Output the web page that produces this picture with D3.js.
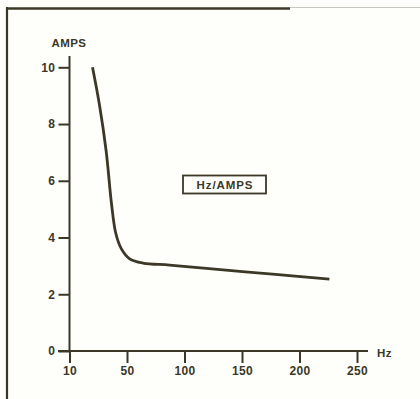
<!DOCTYPE html>
<html>
<head>
<meta charset="utf-8">
<script src="https://cdn.jsdelivr.net/npm/d3@7"></script>
<style>
  html, body { margin: 0; padding: 0; background: #fefefb; }
  svg { display: block; }
  text { font-family: "Liberation Sans", Arial, Helvetica, sans-serif; font-weight: bold; fill: #3b3828; }
</style>
</head>
<body>
<svg id="chart" width="420" height="399"></svg>
<script>
// Frequency (Hz) vs current (AMPS)
const hz   = [26, 31, 35.5, 39.2, 42.2, 46.1, 52.3, 63.9, 87, 119, 176.5, 226];
const amps = [10, 8.63, 7.05, 5.2, 4.15, 3.6, 3.25, 3.1, 3.03, 2.91, 2.71, 2.53];

const xTicks = [10, 50, 100, 150, 200, 250];
const yTicks = [0, 2, 4, 6, 8, 10];
const seriesLabel = "Hz/AMPS";

const ink = "#3b3828";
const svg = d3.select("#chart");

// The frequency axis places its labelled values at equal steps
const x0 = 69.5, step = 57.5;
const x = d3.scaleLinear()
  .domain(xTicks)
  .range(xTicks.map((d, i) => x0 + i * step));
const xEnd = x0 + (xTicks.length - 1) * step + 11;

const y = d3.scaleLinear().domain([0, 10]).range([351, 67.3]);

// frame: left and top rules
svg.append("line").attr("x1", 7).attr("x2", 7).attr("y1", 7).attr("y2", 399)
  .attr("stroke", ink).attr("stroke-width", 2.2);
svg.append("line").attr("x1", 6).attr("x2", 290).attr("y1", 8.5).attr("y2", 8.5)
  .attr("stroke", ink).attr("stroke-width", 2.4);
svg.append("line").attr("x1", 290).attr("x2", 420).attr("y1", 7.5).attr("y2", 7.5)
  .attr("stroke", "#c9c8be").attr("stroke-width", 1);

// y axis
const yAxis = d3.axisLeft(y).tickValues(yTicks).tickSize(11).tickSizeOuter(0).tickPadding(3);
const gy = svg.append("g").attr("transform", `translate(${x0},0)`).call(yAxis);
gy.select(".domain").remove();
gy.selectAll(".tick line").attr("stroke", ink).attr("stroke-width", 2);
gy.selectAll(".tick text").attr("font-size", 12).attr("letter-spacing", 0.5)
  .attr("fill", ink).attr("font-family", null);
svg.append("line").attr("x1", x0).attr("x2", x0).attr("y1", y(10.4)).attr("y2", y(0))
  .attr("stroke", ink).attr("stroke-width", 2);

// x axis
const xAxis = d3.axisBottom(x).tickValues(xTicks).tickSize(12).tickSizeOuter(0).tickPadding(3)
  .tickFormat(d3.format("d"));
const gx = svg.append("g").attr("transform", `translate(0,${y(0)})`).call(xAxis);
gx.select(".domain").remove();
gx.selectAll(".tick line").attr("stroke", ink).attr("stroke-width", 2);
gx.selectAll(".tick text").attr("font-size", 12).attr("letter-spacing", 0.3)
  .attr("fill", ink).attr("font-family", null);
svg.append("line").attr("x1", x0 - 11.5).attr("x2", xEnd).attr("y1", y(0)).attr("y2", y(0))
  .attr("stroke", ink).attr("stroke-width", 2);

// axis titles
svg.append("text").attr("x", 69).attr("y", 47).attr("text-anchor", "middle")
  .attr("font-size", 11.5).attr("letter-spacing", 0.4).text("AMPS");
svg.append("text").attr("x", xEnd + 9).attr("y", y(0) + 5.5)
  .attr("font-size", 11.5).attr("letter-spacing", 0.4).text("Hz");

// curve
const line = d3.line()
  .x((d, i) => x(hz[i]))
  .y(d => y(d))
  .curve(d3.curveCatmullRom.alpha(0.5));
svg.append("path").datum(amps).attr("d", line)
  .attr("fill", "none").attr("stroke", ink).attr("stroke-width", 2.8)
  .attr("stroke-linejoin", "round").attr("stroke-linecap", "butt");

// series label box
svg.append("rect").attr("x", 183).attr("y", 175.5).attr("width", 83).attr("height", 18)
  .attr("fill", "none").attr("stroke", ink).attr("stroke-width", 1.8);
svg.append("text").attr("x", 224.5).attr("y", 188.5).attr("text-anchor", "middle")
  .attr("font-size", 11.5).attr("textLength", 56).attr("lengthAdjust", "spacing")
  .text(seriesLabel);
</script>
</body>
</html>
